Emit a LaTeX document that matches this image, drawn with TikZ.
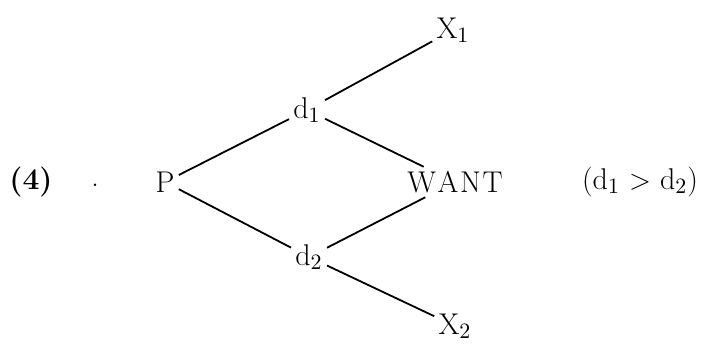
\documentclass[tikz,border=0pt]{standalone}
\begin{document}
\begin{tikzpicture}[x=0.5pt,y=-0.5pt,
  lbl/.style={inner sep=2pt,font=\fontsize{15}{18}\selectfont},
  edge/.style={line width=0.9pt}]
\useasboundingbox (0,0) rectangle (704,343);
\node[lbl,font=\fontsize{15}{18}\selectfont\bfseries] (num) at (31,182) {(4)};
\node[lbl] (dot) at (95,185) {.};
\node[lbl] (P) at (165,182) {P};
\node[lbl] (d1) at (307,110) {d$_1$};
\node[lbl] (d2) at (309,257) {d$_2$};
\node[lbl] (W) at (455,182) {W\kern0.8pt A\kern0.8pt N\kern0.8pt T};
\node[lbl] (X1) at (453,30) {X$_1$};
\node[lbl] (X2) at (455,326) {X$_2$};
\node[lbl] (cond) at (640,182) {(d$_1$ $>$ d$_2$)};
\draw[edge] (P) -- (d1);
\draw[edge] (P) -- (d2);
\draw[edge] (d1) -- (X1);
\draw[edge] (d1) -- (W);
\draw[edge] (W) -- (d2);
\draw[edge] (d2) -- (X2);
\end{tikzpicture}
\end{document}
